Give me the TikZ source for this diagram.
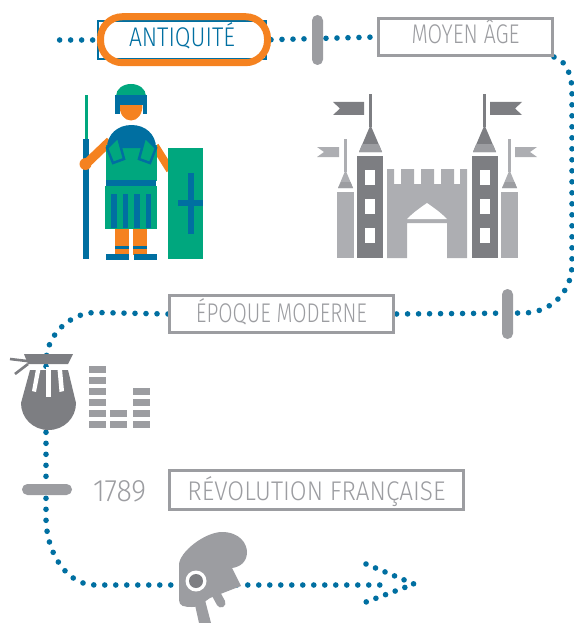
\documentclass[tikz,border=0pt]{standalone}
\usepackage{fontspec}
\usepackage{graphicx}
\setmainfont{Fira Sans Light}
\usetikzlibrary{backgrounds}
\definecolor{cblue}{HTML}{006FA1}
\definecolor{corange}{HTML}{F58220}
\definecolor{cgreen}{HTML}{00A77E}
\definecolor{cdark}{HTML}{7D7E82}
\definecolor{cmid}{HTML}{9C9DA1}
\definecolor{clight}{HTML}{ADAEB2}
\newcommand{\fitw}[2]{\resizebox{#1pt}{\height}{#2}}
\tikzset{
  dots/.style={draw=cblue,line width=5.6pt,line cap=round,dash pattern=on 0pt off 11pt},
  labelbox/.style={draw=cmid,line width=2.7pt,fill=white,inner sep=0pt,text=cmid,font=\fontsize{27}{27}\selectfont,text depth=0pt},
  barnode/.style={fill=cmid,rounded corners=5.4pt,inner sep=0pt},
  ddk/.style={fill=cdark},
  lgt/.style={fill=clight},
  mdg/.style={fill=cmid},
  gr/.style={fill=cgreen},
  bl/.style={fill=cblue},
  og/.style={fill=corange},
  wh/.style={fill=white}
}
\begin{document}
\begin{tikzpicture}[x=1pt,y=-1pt]
\useasboundingbox (0,0) rectangle (573,623);
% --- labelled stations
\node[labelbox,draw=cblue,text=cblue,minimum width=168pt,minimum height=38pt,text height=14pt] (anti) at (182,40) {\fitw{106}{ANTIQUITÉ}};
\node[draw=corange,line width=7pt,rounded corners=22pt,minimum width=167pt,minimum height=46pt,inner sep=0pt] (ring) at (184,39.7) {};
\node[labelbox,minimum width=174.3pt,minimum height=37.3pt,text height=14pt] (moyen) at (465.5,37) {\fitw{108}{MOYEN ÂGE}};
\node[labelbox,minimum width=224.3pt,minimum height=37.3pt,text height=16pt] (epoque) at (281.5,314) {\fitw{171}{ÉPOQUE MODERNE}};
\node[labelbox,minimum width=294.3pt,minimum height=39.3pt,text height=20pt] (revol) at (316.5,490) {\fitw{258}{RÉVOLUTION FRANÇAISE}};
\node[barnode,minimum width=11pt,minimum height=50pt] (bara) at (317.5,40) {};
\node[barnode,minimum width=11pt,minimum height=50pt] (barb) at (507.5,314) {};
\node[barnode,minimum width=50pt,minimum height=11pt] (barc) at (47,489.5) {};
\node[text=cmid,font=\fontsize{31}{31}\selectfont,inner sep=0pt,text height=21pt,text depth=0pt] (year) at (119.5,490.5) {\fitw{53}{1789}};
% --- connector helpers
\coordinate (st) at (57,40);
\coordinate (ca) at (572,92);
\coordinate (cb) at (572,264);
\coordinate (cc) at (523,313);
\coordinate (da) at (95,312.5);
\coordinate (db) at (46,362);
\coordinate (dc) at (46,518);
\coordinate (dd) at (95,585);
\coordinate (de) at (383,585);
\coordinate (ha) at (366,564);
\coordinate (hb) at (366,602);
\coordinate (tip) at (414,584);
\begin{pgfonlayer}{background}
  \draw[dots,dash pattern=on 0pt off 11pt,dash phase=7pt] (anti.west) -- (st);
  \draw[dots] (ring.east) -- (moyen.west);
  \draw[dots] (moyen.south east) .. controls (566,60) and (572,75) .. (ca) -- (cb) .. controls (572,293) and (550,313) .. (cc) -- (epoque.east);
  \draw[dots] (epoque.west) -- (da) .. controls (70,313) and (46,335) .. (db) -- (dc) .. controls (46,550) and (65,585) .. (dd) -- (de);
  \draw[dots,dash pattern=on 0pt off 10.3pt] (ha) -- (tip) -- (hb);
\end{pgfonlayer}
% --- soldier
\fill[gr] (85,95) rectangle (88,140);
\fill[bl] (83,139) rectangle (89,259);
\draw[corange,line width=9pt] (86,164) -- (110,141);
\fill[og] (85.5,164) circle (6);
\draw[corange,line width=8pt] (155,146) -- (170,170);
\fill[gr] (116,96) .. controls (116,89) and (123,84) .. (131,84) .. controls (139,84) and (146,89) .. (146,96) -- cycle;
\fill[og] (119.5,105) -- (142.5,105) .. controls (142.5,114) and (138,120.5) .. (131,120.5) .. controls (124,120.5) and (119.5,114) .. (119.5,105) -- cycle;
\fill[bl] (115,95) rectangle (147,105);
\fill[bl] (115,95) rectangle (119.5,114);
\fill[bl] (142.5,95) rectangle (147,114);
\fill[gr] (106,145) rectangle (157,181);
\fill[bl] (107,148) .. controls (107,134) and (118,125) .. (131.5,125) .. controls (145,125) and (156,134) .. (156,148) -- cycle;
\draw[cblue,line width=2.5pt,fill=cgreen,line join=miter] (118,137) -- (124,159) -- (113,163) -- (107,148) -- cycle;
\draw[cblue,line width=2.5pt,fill=cgreen,line join=miter] (145,137) -- (139,159) -- (150,163) -- (156,148) -- cycle;
\fill[bl] (106,180) rectangle (156,186);
\fill[gr] (105,186) rectangle (157,229);
\fill[bl] (111,194) rectangle (117,228);
\fill[bl] (123,194) rectangle (128,228);
\fill[bl] (134,194) rectangle (140,228);
\fill[bl] (146,194) rectangle (151,228);
\fill[og] (115,229) rectangle (129,255);
\fill[og] (133,229) rectangle (147,255);
\fill[bl] (115,246) rectangle (129,249);
\fill[bl] (133,246) rectangle (147,249);
\fill[bl] (106,254) rectangle (129,260);
\fill[bl] (134,254) rectangle (157,260);
\fill[gr] (168,148) rectangle (203,259);
\fill[bl] (188,173) rectangle (194,234);
\fill[bl] (178,200) rectangle (203,206);
% --- castle
\fill[lgt] (337,192) rectangle (354,258);
\fill[lgt] (501,192) rectangle (518,258);
\fill[lgt] (344,139) rectangle (347,172);
\fill[lgt] (508,139) rectangle (511,172);
\fill[lgt] (317,147) -- (339,147) -- (339,157) -- (317,157) -- (324,152) -- cycle;
\fill[lgt] (537,147) -- (515,147) -- (515,157) -- (537,157) -- (530,152) -- cycle;
\fill[lgt] (345.5,170) -- (338,188) -- (353,188) -- cycle;
\fill[lgt] (509.5,170) -- (502,188) -- (517,188) -- cycle;
\fill[mdg] (341,182) -- (350.5,182) -- (353,188) -- (338,188) -- cycle;
\fill[mdg] (505,182) -- (514.5,182) -- (517,188) -- (502,188) -- cycle;
\fill[ddk] (369,94) rectangle (372,127);
\fill[ddk] (483,94) rectangle (486,127);
\fill[ddk] (333,102) -- (364,102) -- (364,115) -- (333,115) -- (340,108.5) -- cycle;
\fill[ddk] (522,102) -- (490,102) -- (490,115) -- (522,115) -- (515,108.5) -- cycle;
\fill[ddk] (370.5,125) -- (359,152) -- (382,152) -- cycle;
\fill[ddk] (484.5,125) -- (473,152) -- (496,152) -- cycle;
\fill[mdg] (362.3,144) -- (378.7,144) -- (382,152) -- (359,152) -- cycle;
\fill[mdg] (476.3,144) -- (492.7,144) -- (496,152) -- (473,152) -- cycle;
\fill[ddk] (357,156) rectangle (383,258);
\fill[ddk] (472,156) rectangle (498,258);
\foreach \yy in {170,199,228} {
  \fill[wh] (365,\yy) rectangle (375,\yy+15);
  \fill[wh] (480,\yy) rectangle (490,\yy+15);
}
\fill[lgt] (387,258) -- (387,169) -- (394,169) -- (394,184) -- (401,184) -- (401,169) -- (414,169) -- (414,184) -- (421,184) -- (421,169) -- (434,169) -- (434,184) -- (441,184) -- (441,169) -- (454,169) -- (454,184) -- (460,184) -- (460,169) -- (467,169) -- (467,258) -- (447,258) -- (447,223) -- (407,223) -- (407,258) -- cycle;
\fill[wh] (407,219) .. controls (414,212) and (420,208) .. (427,203) .. controls (434,208) and (440,212) .. (447,219) -- cycle;
% --- bag
\draw[cdark,line width=2.6pt] (10,359) -- (27,361);
\draw[cdark,line width=2.6pt] (15,374) -- (28,364);
\fill[ddk] (24,354) -- (73,354) -- (68,364) -- (28,364) -- cycle;
\fill[ddk] (30,370) -- (68,370) -- (76,403) .. controls (76,418) and (64,430) .. (48.5,430) .. controls (33,430) and (21,418) .. (21,403) -- cycle;
\fill[wh] (36,369) -- (40.5,369) -- (36,392) -- (32,391) -- cycle;
\fill[wh] (46,367) rectangle (51,397);
\fill[wh] (57.5,369) -- (62,369) -- (64,391) -- (59.5,392) -- cycle;
% --- level bars
\foreach \yy in {421,410,399,388,377,366} { \fill[mdg] (89,\yy) rectangle (106,\yy+7); }
\foreach \yy in {421,410} { \fill[mdg] (110,\yy) rectangle (127,\yy+7); }
\foreach \yy in {421,410,399,388} { \fill[mdg] (133,\yy) rectangle (150,\yy+7); }
% --- head
\fill[mdg] (179,600) -- (179,565) .. controls (179,552) and (205,532) .. (222,532) .. controls (240,532) and (247,544) .. (247,552) .. controls (247,562) and (240,567) .. (232,568) -- (241,586) -- (210,598) .. controls (205,601) and (200,607) .. (192,607) .. controls (184,607) and (179,606) .. (179,600) -- cycle;
\fill[mdg] (195,605) -- (205,600) -- (211,623) -- (199,623) -- cycle;
\draw[cmid,line width=9pt,line cap=round] (215,592) -- (221,603);
\fill[wh] (196,581) circle (10.5);
\fill[ddk] (196,581) circle (7);
\end{tikzpicture}
\end{document}
